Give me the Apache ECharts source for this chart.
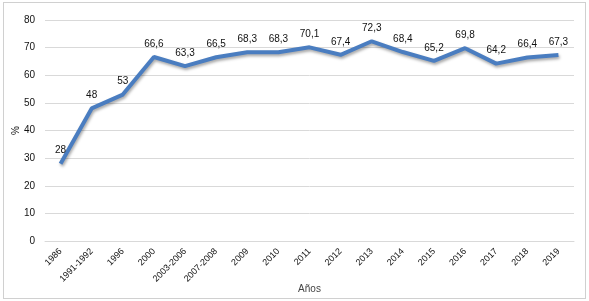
<!DOCTYPE html>
<html>
<head>
<meta charset="utf-8">
<script src="https://cdn.jsdelivr.net/npm/echarts@6/dist/echarts.min.js"></script>
<style>
  html, body { margin: 0; padding: 0; background: #fff; }
  #chart { position: absolute; left: 3px; top: 2px; width: 581px; height: 295px; border: 1px solid #d0d0d0; }
</style>
</head>
<body>
<div id="chart"></div>
<script>
const years = ['1986', '1991-1992', '1996', '2000', '2003-2006', '2007-2008', '2009', '2010', '2011', '2012', '2013', '2014', '2015', '2016', '2017', '2018', '2019']
const percent = [28, 48, 53, 66.6, 63.3, 66.5, 68.3, 68.3, 70.1, 67.4, 72.3, 68.4, 65.2, 69.8, 64.2, 66.4, 67.3]

const chart = echarts.init(document.getElementById('chart'))
const fontFamily = 'Liberation Sans, Arial, sans-serif'

chart.setOption({
  animation: false,
  grid: {
    left: 41,
    right: 11,
    top: 17,
    bottom: 57,
    outerBoundsMode: 'none'
  },
  xAxis: {
    type: 'category',
    data: years,
    boundaryGap: true,
    name: 'Años',
    nameLocation: 'middle',
    nameGap: 43,
    nameMoveOverlap: false,
    nameTextStyle: { color: '#444', fontSize: 10, fontFamily: fontFamily },
    axisLine: { show: true, lineStyle: { color: '#d9d9d9' } },
    axisTick: { show: false },
    axisLabel: {
      interval: 0,
      rotate: 45,
      margin: 9,
      color: '#111',
      fontSize: 9,
      fontFamily: fontFamily
    }
  },
  yAxis: {
    type: 'value',
    min: 0,
    max: 80,
    interval: 10,
    name: '%',
    nameLocation: 'middle',
    nameGap: 24,
    nameRotate: 90,
    nameMoveOverlap: false,
    nameTextStyle: { color: '#111', fontSize: 10, fontFamily: fontFamily },
    axisLine: { show: false },
    axisTick: { show: false },
    axisLabel: { color: '#111', fontSize: 10, margin: 10, fontFamily: fontFamily },
    splitLine: { lineStyle: { color: '#d9d9d9', width: 1 } }
  },
  series: [{
    type: 'line',
    data: percent,
    symbol: 'circle',
    symbolSize: 0,
    lineStyle: {
      color: '#4a7dc0',
      width: 4,
      shadowColor: 'rgba(0,0,0,0.35)',
      shadowBlur: 3,
      shadowOffsetX: 1,
      shadowOffsetY: 2
    },
    itemStyle: { color: '#4a7dc0' },
    label: {
      show: true,
      position: 'top',
      distance: 8,
      color: '#111',
      fontSize: 10,
      fontFamily: fontFamily,
      formatter: p => String(p.value).replace('.', ',')
    }
  }]
})
</script>
</body>
</html>
